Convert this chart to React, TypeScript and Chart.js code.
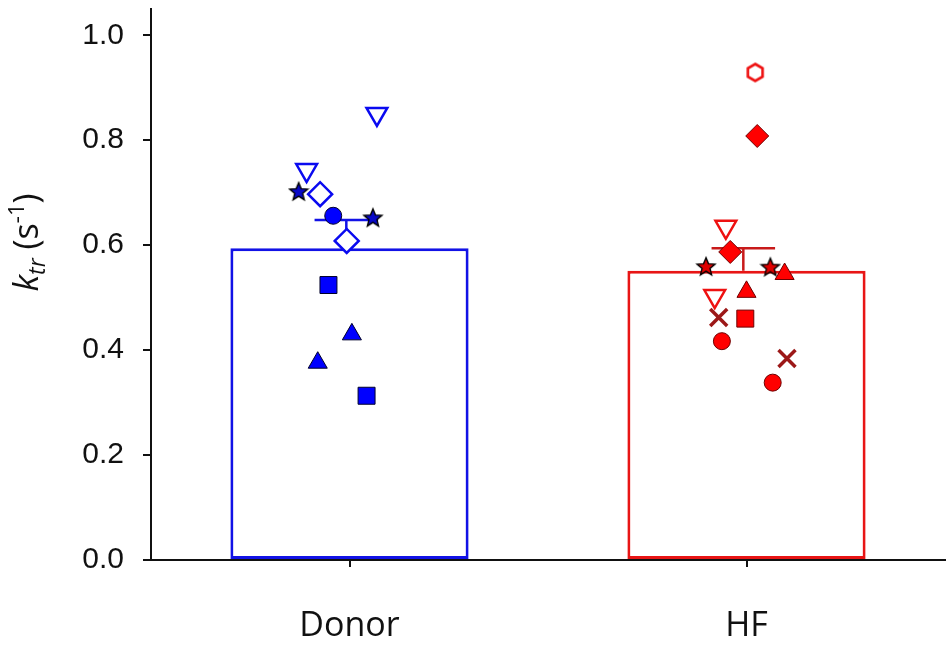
import { useEffect, useRef } from "react";
import { Chart, registerables } from "chart.js";

Chart.register(...registerables);

// Chart data
const groups = ["Donor", "HF"];
const groupMeans = [0.594, 0.551];
const groupSem = [0.054, 0.043];
const yTicks = [0, 0.2, 0.4, 0.6, 0.8, 1.0];

const donorValues = [0.85, 0.743, 0.703, 0.697, 0.656, 0.653, 0.608, 0.524, 0.43, 0.376, 0.313];
const donorJitter = [0.069, -0.108, -0.128, -0.074, -0.041, 0.059, -0.007, -0.053, 0.006, -0.08, 0.043];
const donorMarkers = ["triO", "triO", "star", "diaO", "dot", "star", "diaO", "sq", "tri", "tri", "sq"];

const hfValues = [0.929, 0.808, 0.635, 0.587, 0.56, 0.559, 0.545, 0.511, 0.503, 0.462, 0.46, 0.417, 0.384, 0.338];
const hfJitter = [0.022, 0.027, -0.052, -0.041, -0.102, 0.06, 0.096, 0.0, -0.08, -0.07, -0.003, -0.062, 0.102, 0.066];
const hfMarkers = ["hexO", "dia", "triO", "dia", "star", "star", "tri", "tri", "triO", "x", "sq", "dot", "x", "dot"];

// Styles
const barColors = ["#1212e6", "#e81515"];
const errColors = ["#1212e6", "#c81a1a"];
const blue = { fill: "#0000ff", edge: "#00002a", open: "#0a0af0", cross: "#0000aa", star: "#0808c8" };
const red = { fill: "#ff0000", edge: "#6e0000", open: "#ee1111", cross: "#9c1818", star: "#e00000" };

type Palette = typeof blue;

function makeStar(fill: string, edge: string) {
  const c = document.createElement("canvas");
  const s = 22;
  c.width = s;
  c.height = s;
  const ctx = c.getContext("2d")!;
  ctx.beginPath();
  for (let i = 0; i < 10; i++) {
    const r = i % 2 === 0 ? 9.5 : 4.2;
    const a = -Math.PI / 2 + (i * Math.PI) / 5;
    const px = s / 2 + r * Math.cos(a);
    const py = s / 2 + 1 + r * Math.sin(a);
    if (i === 0) ctx.moveTo(px, py);
    else ctx.lineTo(px, py);
  }
  ctx.closePath();
  ctx.fillStyle = fill;
  ctx.fill();
  ctx.lineWidth = 1.4;
  ctx.strokeStyle = edge;
  ctx.stroke();
  return c;
}

function makeHex(edge: string) {
  const c = document.createElement("canvas");
  const s = 24;
  c.width = s;
  c.height = s;
  const ctx = c.getContext("2d")!;
  ctx.beginPath();
  for (let i = 0; i < 6; i++) {
    const a = -Math.PI / 2 + (i * Math.PI) / 3;
    const px = s / 2 + 8.5 * Math.cos(a);
    const py = s / 2 + 8.5 * Math.sin(a);
    if (i === 0) ctx.moveTo(px, py);
    else ctx.lineTo(px, py);
  }
  ctx.closePath();
  ctx.fillStyle = "#fff";
  ctx.fill();
  ctx.lineWidth = 2.6;
  ctx.strokeStyle = edge;
  ctx.stroke();
  return c;
}

function markerStyle(kind: string, pal: Palette) {
  switch (kind) {
    case "sq":
      return { style: "rect" as any, r: 12, bg: pal.fill, border: pal.edge, bw: 1, rot: 0 };
    case "tri":
      return { style: "triangle" as any, r: 11, bg: pal.fill, border: pal.edge, bw: 1, rot: 0 };
    case "dot":
      return { style: "circle" as any, r: 8.5, bg: pal.fill, border: pal.edge, bw: 1, rot: 0 };
    case "dia":
      return { style: "rectRot" as any, r: 11.5, bg: pal.fill, border: pal.edge, bw: 1, rot: 0 };
    case "diaO":
      return { style: "rectRot" as any, r: 12, bg: "#fff", border: pal.open, bw: 2.5, rot: 0 };
    case "triO":
      return { style: "triangle" as any, r: 12, bg: "#fff", border: pal.open, bw: 2.5, rot: 180 };
    case "x":
      return { style: "crossRot" as any, r: 12, bg: pal.cross, border: pal.cross, bw: 3.5, rot: 0 };
    case "star":
      return { style: makeStar(pal.star, "#000") as any, r: 10, bg: pal.fill, border: "#000", bw: 1, rot: 0 };
    default:
      return { style: makeHex(pal.open) as any, r: 10, bg: "#fff", border: pal.open, bw: 2.5, rot: 0 };
  }
}

function pointDataset(label: string, group: number, values: number[], jitter: number[], markers: string[], pal: Palette) {
  const styles = markers.map((m) => markerStyle(m, pal));
  return {
    label,
    type: "scatter" as const,
    data: values.map((v, i) => ({ x: group + jitter[i], y: v })),
    pointStyle: styles.map((s) => s.style),
    pointRadius: styles.map((s) => s.r),
    pointBackgroundColor: styles.map((s) => s.bg),
    pointBorderColor: styles.map((s) => s.border),
    pointBorderWidth: styles.map((s) => s.bw),
    pointRotation: styles.map((s) => s.rot),
    order: 0,
  };
}

// Error bars (upper half only) drawn right after the bars
const errorBarPlugin = {
  id: "errorBars",
  afterDatasetDraw(chart: any, args: any) {
    if (args.index !== 0) return;
    const { ctx } = chart;
    const x = chart.scales.x;
    const y = chart.scales.y;
    ctx.save();
    groupMeans.forEach((m, i) => {
      const cx = x.getPixelForValue(i - 0.008);
      const half = x.getPixelForValue(i + 0.08) - x.getPixelForValue(i);
      const base = y.getPixelForValue(m);
      const top = y.getPixelForValue(m + groupSem[i]);
      ctx.strokeStyle = errColors[i];
      ctx.lineWidth = 2.5;
      ctx.beginPath();
      ctx.moveTo(cx, base);
      ctx.lineTo(cx, top);
      ctx.moveTo(cx - half, top);
      ctx.lineTo(cx + half, top);
      ctx.stroke();
    });
    ctx.restore();
  },
};

// Y axis title with subscript / superscript
const yTitleParts = [
  { text: "k", font: "italic 34px 'Open Sans'", dy: 0 },
  { text: "tr", font: "italic 23px 'Open Sans'", dy: 7 },
  { text: " (s", font: "34px 'Open Sans'", dy: 0 },
  { text: "-1", font: "22px 'Open Sans'", dy: -14 },
  { text: ")", font: "34px 'Open Sans'", dy: 0 },
];

const yTitlePlugin = {
  id: "yTitle",
  afterDraw(chart: any) {
    const { ctx } = chart;
    const cy = chart.scales.y.getPixelForValue(0.605);
    ctx.save();
    ctx.translate(38, cy);
    ctx.rotate(-Math.PI / 2);
    ctx.fillStyle = "#111";
    ctx.textBaseline = "alphabetic";
    let total = 0;
    yTitleParts.forEach((p) => {
      ctx.font = p.font;
      total += ctx.measureText(p.text).width;
    });
    let pos = -total / 2;
    yTitleParts.forEach((p) => {
      ctx.font = p.font;
      ctx.fillText(p.text, pos, p.dy);
      pos += ctx.measureText(p.text).width;
    });
    ctx.restore();
  },
};

export default function App() {
  const canvasRef = useRef<HTMLCanvasElement | null>(null);

  useEffect(() => {
    document.body.style.margin = "0";
    const canvas = canvasRef.current;
    if (!canvas) return;

    const chart = new Chart(canvas, {
      type: "scatter",
      data: {
        datasets: [
          {
            label: "mean",
            type: "bar",
            data: groupMeans.map((m, i) => ({ x: i, y: m })),
            backgroundColor: "#ffffff",
            borderColor: barColors,
            borderWidth: 3,
            borderSkipped: false,
            barPercentage: 0.6,
            categoryPercentage: 1,
            order: 1,
          } as any,
          pointDataset("Donor", 0, donorValues, donorJitter, donorMarkers, blue),
          pointDataset("HF", 1, hfValues, hfJitter, hfMarkers, red),
        ],
      },
      options: {
        animation: false,
        responsive: true,
        maintainAspectRatio: false,
        events: [],
        layout: { autoPadding: false, padding: { top: 9, right: 5, left: 0, bottom: 0 } },
        plugins: {
          legend: { display: false },
          tooltip: { enabled: false },
        },
        scales: {
          x: {
            type: "linear",
            min: -0.5,
            max: 1.5,
            offset: false,
            afterBuildTicks: (s: any) => {
              s.ticks = groups.map((_, i) => ({ value: i }));
            },
            afterFit: (s: any) => {
              s.height = 88;
            },
            ticks: {
              callback: (v: any) => groups[v] ?? "",
              font: { family: "'Open Sans'", size: 34 },
              color: "#111",
              padding: 39,
              autoSkip: false,
              maxRotation: 0,
            },
            grid: { offset: false, drawOnChartArea: false, drawTicks: true, tickLength: 7, color: "#111", lineWidth: 2 },
            border: { color: "#111", width: 2 },
          },
          y: {
            type: "linear",
            min: 0,
            max: 1.05,
            afterBuildTicks: (s: any) => {
              s.ticks = yTicks.map((v) => ({ value: v }));
            },
            afterFit: (s: any) => {
              s.width = 151;
              s.paddingTop = 0;
              s.paddingBottom = 0;
            },
            ticks: {
              callback: (v: any) => Number(v).toFixed(1),
              font: { family: "'Liberation Sans', Arial", size: 30 },
              color: "#111",
              padding: 19,
            },
            grid: { drawOnChartArea: false, drawTicks: true, tickLength: 8, color: "#111", lineWidth: 2 },
            border: { color: "#111", width: 2 },
          },
        },
      },
      plugins: [errorBarPlugin, yTitlePlugin],
    });

    return () => {
      chart.destroy();
    };
  }, []);

  return (
    <div style={{ width: 950, height: 648, position: "relative" }}>
      <canvas ref={canvasRef} />
    </div>
  );
}
